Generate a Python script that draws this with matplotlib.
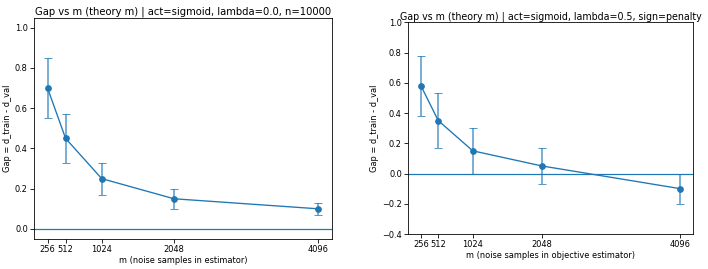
import matplotlib
matplotlib.use("Agg")
import matplotlib.pyplot as plt

m_vals = [256, 512, 1024, 2048, 4096]

# left panel: lambda=0.0
gap_left = [0.70, 0.45, 0.25, 0.15, 0.10]
err_left = [0.15, 0.12, 0.08, 0.05, 0.03]

# right panel: lambda=0.5, sign=penalty
gap_right = [0.58, 0.35, 0.15, 0.05, -0.10]
err_right = [0.20, 0.18, 0.15, 0.12, 0.10]

W, H = 708, 269
fig = plt.figure(figsize=(W / 74, H / 74), dpi=74)

ax1 = fig.add_axes([34 / W, 1 - 239 / H, (332 - 34) / W, (239 - 17.7) / H])
ax2 = fig.add_axes([408 / W, 1 - 234 / H, (693 - 408) / W, (234 - 22.3) / H])

def panel(ax, y, e, title, xlabel, ylim, yticks, tsize):
    ax.errorbar(m_vals, y, yerr=e, fmt='o-', color='C0', ecolor=(0.12, 0.47, 0.71, 0.75),
                capsize=4, markersize=5.5, linewidth=1.3, elinewidth=1.5)
    ax.axhline(0, color='C0', linewidth=1.2)
    ax.set_xticks(m_vals)
    ax.set_xticklabels([str(v) for v in m_vals])
    ax.set_ylim(*ylim)
    ax.set_yticks(yticks)
    ax.set_title(title, fontsize=tsize, pad=3)
    ax.set_xlabel(xlabel, fontsize=8, labelpad=2)
    ax.set_ylabel("Gap = d_train - d_val", fontsize=8, labelpad=3)
    ax.tick_params(labelsize=8, pad=2.5)

panel(ax1, gap_left, err_left,
      "Gap vs m (theory m) | act=sigmoid, lambda=0.0, n=10000",
      "m (noise samples in estimator)", (-0.05, 1.05),
      [0.0, 0.2, 0.4, 0.6, 0.8, 1.0], 9.7)
panel(ax2, gap_right, err_right,
      "Gap vs m (theory m) | act=sigmoid, lambda=0.5, sign=penalty",
      "m (noise samples in objective estimator)", (-0.4, 1.0),
      [-0.4, -0.2, 0.0, 0.2, 0.4, 0.6, 0.8, 1.0], 9.3)

fig.savefig("out.png", dpi=74)
